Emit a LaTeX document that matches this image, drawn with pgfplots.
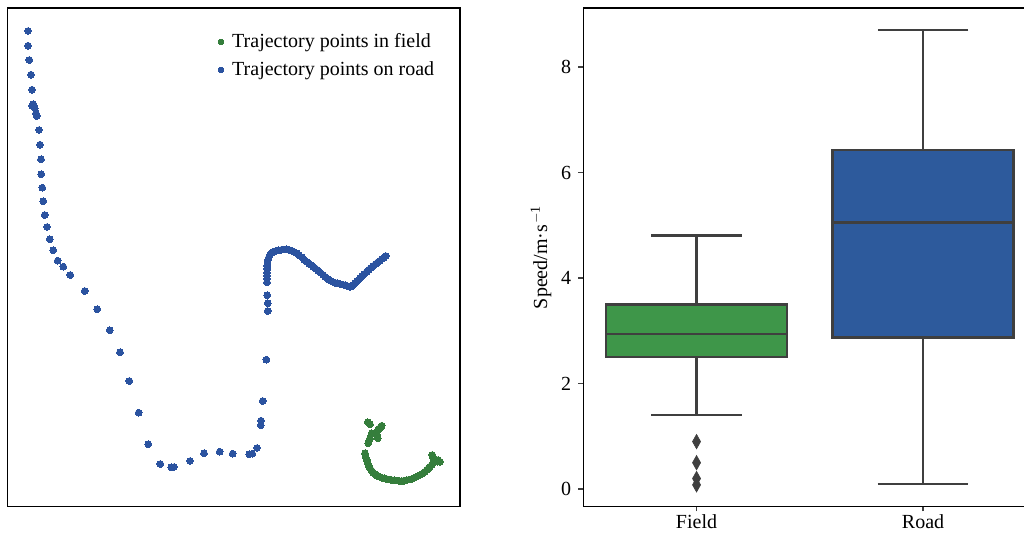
\documentclass[border=0pt]{standalone}
\usepackage{fontspec}
\setmainfont{Liberation Serif}
\usepackage{pgfplots}
\pgfplotsset{compat=1.18}
\usepgfplotslibrary{statistics}

\definecolor{roadblue}{HTML}{2B53A0}
\definecolor{fieldgreen}{HTML}{357E3C}
\definecolor{boxgreen}{HTML}{3E9649}
\definecolor{boxblue}{HTML}{2D5A9C}
\definecolor{edgegray}{HTML}{3F3F3F}

% trajectory points in pixel coordinates (y downwards)
\pgfplotstableread{
x y
28 31
28 45.7
29.3 60
31 74.7
32 89.7
33.3 104.3
32.3 106
34.7 108.3
36 113.3
36.7 116
39 130
40 144.7
41 159.3
41.3 174.3
42.3 187.7
43.3 201.3
44.7 215
47 227
49.7 239.3
53.3 250.3
57.7 260.7
63.3 266.7
70.3 275
84.7 291
97.3 309.3
109.7 330.3
120 352.3
129.3 381
138.7 412.7
148.3 444.3
160.3 464
171.3 467.3
174 467
190 461
204 453.3
219.7 451.7
232.7 453.7
249.3 454.3
252.3 453.7
257 448
260.7 425.3
261 420.7
262.7 401
266.3 359.7
267.7 311
267.7 303.3
267.3 295.3
267 282.3
267 279
267 276
267 272.5
267.2 269
267.3 266
267.5 263
268 260
268.8 257.5
270 255
271.5 253
273.3 251.7
276 250.8
278.5 250.3
281 250
283.5 249.6
286.7 249.3
289 249.8
291.7 250.7
294 251.8
296.7 253.3
299 255.2
301.7 257.3
304 259.5
306.7 261.7
309 263.5
311 265
313.3 266.7
315.5 268.5
318.3 270.7
320.5 272.8
323.3 275
325.5 277
328.3 279.3
331 281
333 282
335 282.7
337.5 283.3
340 284
342.5 284.5
345 285.2
347.5 286
350 286.7
352 286.4
353.3 285
355 283.3
357 281.3
358.5 279.8
360 278.3
362 276.3
364 274.3
366.7 271.7
369 269.6
371 267.8
373.3 266
375.5 264.2
377.5 262.5
380 260.7
382 259
384 257.5
385.7 256
}\roadpts

\pgfplotstableread{
x y
367.7 422.3
370 424.3
381.7 425.7
380.5 427.3
379 429
377.8 430.3
376.7 431.7
371.7 433.3
377.5 436
377.7 438.3
370 438.3
369 441
368.3 443.3
365 453.3
365.5 455.5
366 458
366.7 460
367.5 462.5
368.5 465
370 468.3
371.5 470.5
373 472.5
375 474.3
377 475.5
379.3 476.7
381.7 477.7
384 478.3
386.5 478.9
389 479.5
391.7 480
394 480.3
396.5 480.6
399 480.8
401.7 481
404 480.7
406.5 480.2
409 479.6
411.7 479
414 478
416 477
418 476
420 475
422 473.8
424.5 472
426.7 470
428.5 468.3
430 466.7
431.7 465
433.3 463.3
435 461.7
437.5 461.7
440 461.7
438 460
434 459.5
433.3 458.3
433 457
432.3 455
}\fieldpts

\begin{document}
\begin{tikzpicture}[font=\fontsize{10}{12}\selectfont]
\begin{axis}[
    at={(3.75pt,13.25pt)}, anchor=south west,
    scale only axis, width=226.25pt, height=249.25pt,
    xmin=7.5, xmax=460, ymin=8, ymax=506.5, y dir=reverse,
    xtick=\empty, ytick=\empty,
    axis line style={black, line width=0.6pt},
    legend style={at={(0.966,0.966)}, anchor=north east, draw=none, fill=none,
        font=\fontsize{10}{12}\selectfont, cells={anchor=west}, row sep=1.5pt},
    legend image code/.code={\draw[#1, mark size=1.4pt] plot coordinates {(0pt,0pt)};},
    /tikz/every even column/.append style={column sep=0pt},
    /tikz/every odd column/.append style={column sep=2.2pt},
]
\addplot[only marks, mark=*, mark size=1.7pt, color=fieldgreen, mark options={line width=0pt}] table[x=x, y=y] {\fieldpts};
\addplot[only marks, mark=*, mark size=1.7pt, color=roadblue, mark options={line width=0pt}] table[x=x, y=y] {\roadpts};
\legend{Trajectory points in field, Trajectory points on road}
\end{axis}

\begin{axis}[
    at={(291.65pt,13.25pt)}, anchor=south west,
    scale only axis, width=226.5pt, height=249.25pt,
    xmin=-0.5, xmax=1.5, ymin=-0.33, ymax=9.12,
    xtick={0,1}, xticklabels={Field, Road},
    xticklabel style={yshift=1.8pt},
    ytick={0,2,4,6,8},
    tick align=outside, xtick pos=bottom, ytick pos=left,
    major tick length=2.5pt,
    every tick/.style={edgegray, line width=0.6pt},
    axis line style={black, line width=0.6pt},
    /pgf/number format/assume math mode=true,
    ylabel={Speed/m·s\textsuperscript{\kern0.05em\raisebox{0.1ex}{\scalebox{0.85}{$-$}}1}},
    ylabel style={yshift=-2pt},
    boxplot/draw direction=y,
    boxplot/every median/.style={draw=edgegray, line width=1.2pt},
    boxplot/every whisker/.style={draw=edgegray, line width=1.2pt},
    boxplot/every box/.style={draw=edgegray, line width=1.2pt},
]
\addplot[boxplot prepared={draw position=0, lower whisker=1.4, lower quartile=2.5,
        median=2.945, upper quartile=3.5, upper whisker=4.81,
        box extend=0.8, whisker extend=0.4},
    fill=boxgreen, draw=edgegray, line width=1.2pt,
    mark=diamond*, mark size=3.6pt,
    mark options={fill=edgegray, draw=edgegray, line width=0.3pt, xscale=0.75}]
    table[row sep=\\, y index=0] {0.9\\0.5\\0.2\\0.08\\};
\addplot[boxplot prepared={draw position=1, lower whisker=0.1, lower quartile=2.87,
        median=5.05, upper quartile=6.43, upper whisker=8.7,
        box extend=0.8, whisker extend=0.4},
    fill=boxblue, draw=edgegray, line width=1.2pt]
    coordinates {};
\end{axis}
\pgfresetboundingbox
\useasboundingbox (0pt,0pt) rectangle (512pt,266.5pt);
\end{tikzpicture}
\end{document}
